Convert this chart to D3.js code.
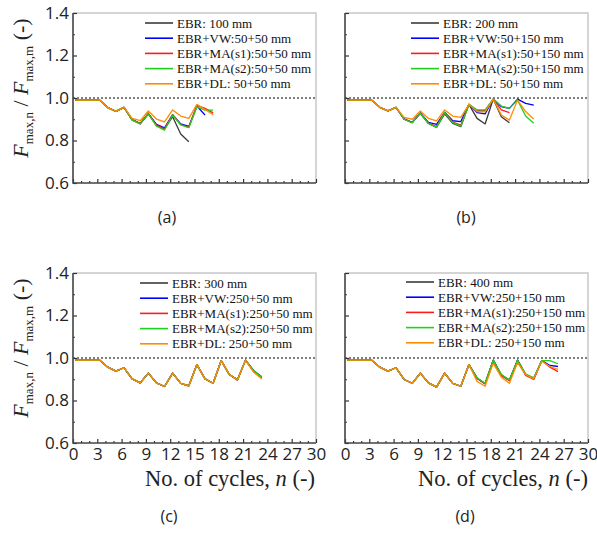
<!DOCTYPE html>
<html><head><meta charset="utf-8">
<script src="https://cdn.jsdelivr.net/npm/d3@7"></script>
<style>
html,body{margin:0;padding:0;background:#fff;}
svg{display:block;}
</style></head>
<body>
<svg id="chart" width="597" height="533"></svg>
<script>
// ---------- DATA ----------
const cycleNo = [0.3,1.3,2.3,3.3,4.3,5.3,6.3,7.3,8.3,9.3,10.3,11.3,12.3,13.3,14.3,15.3,16.3,17.3,18.3,19.3,20.3,21.3,22.3,23.3,24.3,25.3,26.3];
const xTicks = [0,3,6,9,12,15,18,21,24,27,30];
const yTicks = [0.6,0.8,1.0,1.2,1.4];
const seriesColors = ["#3a3a3a","#0000ff","#ff1a1a","#1fd01f","#ff8c00"];

// Panel (a)
const legendA = ["EBR: 100 mm","EBR+VW:50+50 mm","EBR+MA(s1):50+50 mm","EBR+MA(s2):50+50 mm","EBR+DL: 50+50 mm"];
const a_EBR  = [0.99,0.99,0.99,0.99,0.955,0.937,0.956,0.897,0.879,0.926,0.872,0.855,0.912,0.831,0.794];
const a_VW   = [0.99,0.99,0.99,0.99,0.955,0.937,0.956,0.898,0.880,0.926,0.876,0.860,0.922,0.878,0.866,0.962,0.920];
const a_MAs1 = [0.99,0.99,0.99,0.99,0.955,0.937,0.956,0.897,0.879,0.926,0.872,0.855,0.921,0.875,0.862,0.965,0.951,0.930];
const a_MAs2 = [0.99,0.99,0.99,0.99,0.955,0.937,0.956,0.896,0.878,0.925,0.868,0.849,0.920,0.873,0.860,0.958,0.943,0.943];
const a_DL   = [0.99,0.99,0.99,0.99,0.955,0.937,0.956,0.904,0.893,0.939,0.901,0.888,0.944,0.915,0.904,0.970,0.946,0.922];

// Panel (b)
const legendB = ["EBR: 200 mm","EBR+VW:50+150 mm","EBR+MA(s1):50+150 mm","EBR+MA(s2):50+150 mm","EBR+DL: 50+150 mm"];
const b_EBR  = [0.99,0.99,0.99,0.99,0.956,0.939,0.956,0.900,0.884,0.928,0.880,0.862,0.925,0.881,0.865,0.970,0.904,0.878,0.995,0.912,0.884];
const b_VW   = [0.99,0.99,0.99,0.99,0.956,0.939,0.956,0.902,0.886,0.930,0.885,0.876,0.933,0.893,0.889,0.970,0.931,0.925,0.995,0.959,0.951,0.995,0.975,0.967];
const b_MAs1 = [0.99,0.99,0.99,0.99,0.956,0.939,0.956,0.900,0.884,0.929,0.882,0.866,0.932,0.886,0.872,0.970,0.940,0.940,0.995,0.944,0.931];
const b_MAs2 = [0.99,0.99,0.99,0.99,0.956,0.939,0.956,0.900,0.884,0.928,0.880,0.862,0.931,0.884,0.868,0.970,0.944,0.944,0.995,0.962,0.951,0.990,0.915,0.881];
const b_DL   = [0.99,0.99,0.99,0.99,0.956,0.939,0.956,0.909,0.900,0.939,0.904,0.892,0.944,0.915,0.909,0.970,0.936,0.935,0.995,0.920,0.896,0.990,0.936,0.901];

// Panel (c)
const legendC = ["EBR: 300 mm","EBR+VW:250+50 mm","EBR+MA(s1):250+50 mm","EBR+MA(s2):250+50 mm","EBR+DL: 250+50 mm"];
const c_EBR  = [0.99,0.99,0.99,0.99,0.957,0.938,0.954,0.902,0.883,0.929,0.883,0.866,0.929,0.881,0.869,0.969,0.902,0.881,0.988,0.922,0.897,0.990,0.940,0.908];
const c_VW   = [0.99,0.99,0.99,0.99,0.957,0.938,0.954,0.902,0.883,0.929,0.883,0.866,0.929,0.881,0.869,0.969,0.902,0.881,0.988,0.922,0.897,0.990,0.940,0.912];
const c_MAs1 = [0.99,0.99,0.99,0.99,0.957,0.938,0.954,0.902,0.883,0.929,0.883,0.866,0.929,0.881,0.869,0.969,0.902,0.881,0.988,0.922,0.897,0.990,0.935,0.905];
const c_MAs2 = [0.99,0.99,0.99,0.99,0.957,0.938,0.954,0.902,0.883,0.929,0.883,0.866,0.929,0.881,0.869,0.969,0.902,0.881,0.988,0.922,0.897,0.990,0.941,0.910];
const c_DL   = [0.99,0.99,0.99,0.99,0.957,0.938,0.954,0.902,0.883,0.929,0.883,0.866,0.929,0.881,0.869,0.969,0.902,0.881,0.988,0.922,0.897,0.990,0.934,0.902];

// Panel (d)
const legendD = ["EBR: 400 mm","EBR+VW:250+150 mm","EBR+MA(s1):250+150 mm","EBR+MA(s2):250+150 mm","EBR+DL: 250+150 mm"];
const d_EBR  = [0.99,0.99,0.99,0.99,0.957,0.938,0.954,0.899,0.881,0.929,0.883,0.863,0.929,0.881,0.867,0.969,0.905,0.879,0.990,0.920,0.895,0.990,0.922,0.903,0.988];
const d_VW   = [0.99,0.99,0.99,0.99,0.957,0.938,0.954,0.899,0.881,0.929,0.883,0.863,0.929,0.881,0.867,0.969,0.905,0.879,0.990,0.920,0.895,0.990,0.922,0.903,0.988,0.965,0.960];
const d_MAs1 = [0.99,0.99,0.99,0.99,0.957,0.938,0.954,0.899,0.881,0.929,0.883,0.863,0.929,0.881,0.867,0.969,0.905,0.879,0.988,0.918,0.893,0.988,0.918,0.899,0.988,0.957,0.936];
const d_MAs2 = [0.99,0.99,0.99,0.99,0.957,0.938,0.954,0.899,0.881,0.929,0.883,0.863,0.929,0.881,0.867,0.969,0.907,0.881,0.990,0.922,0.897,0.990,0.925,0.907,0.988,0.988,0.973];
const d_DL   = [0.99,0.99,0.99,0.99,0.957,0.938,0.954,0.899,0.881,0.929,0.883,0.863,0.929,0.881,0.867,0.969,0.890,0.867,0.975,0.910,0.881,0.978,0.922,0.902,0.985,0.960,0.946];

const panelLabels = ["(a)","(b)","(c)","(d)"];

// ---------- LAYOUT ----------
const panels = [
  {label:panelLabels[0], series:[a_EBR,a_VW,a_MAs1,a_MAs2,a_DL], legend:legendA, x0:73, x1:316, y0:13, y1:183, showX:false, showY:true,  lg:{x:145, y:23}, lab:{x:167,y:223}},
  {label:panelLabels[1], series:[b_EBR,b_VW,b_MAs1,b_MAs2,b_DL], legend:legendB, x0:345, x1:588, y0:13, y1:183, showX:false, showY:false, lg:{x:411, y:23}, lab:{x:466,y:223}},
  {label:panelLabels[2], series:[c_EBR,c_VW,c_MAs1,c_MAs2,c_DL], legend:legendC, x0:73, x1:316, y0:273, y1:443, showX:true, showY:true,  lg:{x:140, y:283}, lab:{x:169,y:522}, title:{x:230,y:486}},
  {label:panelLabels[3], series:[d_EBR,d_VW,d_MAs1,d_MAs2,d_DL], legend:legendD, x0:345, x1:588, y0:273, y1:443, showX:true, showY:false, lg:{x:406, y:282}, lab:{x:465,y:522}, title:{x:503,y:486}}
];

const svg = d3.select("#chart");
const serif = "'Liberation Serif','DejaVu Serif',serif";
const sans = "'Open Sans','Noto Sans',sans-serif";

panels.forEach(p => {
  const x = d3.scaleLinear().domain([0,30]).range([p.x0,p.x1]);
  const y = d3.scaleLinear().domain([0.6,1.4]).range([p.y1,p.y0]);
  const g = svg.append("g");

  g.append("path").attr("d",`M${p.x0},${p.y0}H${p.x1}V${p.y1}`)
    .attr("fill","none").attr("stroke","#c8c8c8").attr("stroke-width",1.5);

  g.append("line").attr("x1",p.x0).attr("x2",p.x1).attr("y1",y(1.0)).attr("y2",y(1.0))
    .attr("stroke","#000").attr("stroke-width",1).attr("stroke-dasharray","2,2");

  const line = d3.line().x((d,i)=>x(cycleNo[i])).y(d=>y(d));
  p.series.forEach((s,k) => {
    g.append("path").datum(s).attr("d",line).attr("fill","none")
      .attr("stroke",seriesColors[k]).attr("stroke-width",1.3).attr("stroke-linejoin","round");
  });

  const xAx = d3.axisBottom(x).tickValues(d3.range(0,31,1)).tickSize(0).tickFormat("");
  const gx = g.append("g").attr("transform",`translate(0,${p.y1})`).call(xAx);
  gx.select(".domain").remove();
  gx.selectAll(".tick").append("line").attr("y1",0)
    .attr("y2",d => (d%3===0)? -4 : -2).attr("stroke","#333").attr("stroke-width",1.2);
  if (p.showX) {
    const lx = d3.axisBottom(x).tickValues(xTicks).tickSize(0).tickPadding(5);
    const gl = g.append("g").attr("transform",`translate(0,${p.y1})`).call(lx);
    gl.select(".domain").remove();
    gl.selectAll("text").attr("font-family",sans).attr("font-size",17).attr("fill","#222");
  }

  const yAx = d3.axisLeft(y).tickValues(d3.range(6,15,1).map(v=>v/10)).tickSize(0).tickFormat("");
  const gy = g.append("g").attr("transform",`translate(${p.x0},0)`).call(yAx);
  gy.select(".domain").remove();
  gy.selectAll(".tick").append("line").attr("x1",0)
    .attr("x2",(d,i) => (i%2===0)? 4 : 2).attr("stroke","#333").attr("stroke-width",1.2);
  if (p.showY) {
    const ly = d3.axisLeft(y).tickValues(yTicks).tickSize(0).tickPadding(4).tickFormat(d3.format(".1f"));
    const gl = g.append("g").attr("transform",`translate(${p.x0},0)`).call(ly);
    gl.select(".domain").remove();
    gl.selectAll("text").attr("font-family",sans).attr("font-size",17).attr("fill","#222");
  }

  g.append("path").attr("d",`M${p.x0},${p.y0}V${p.y1}H${p.x1}`)
    .attr("fill","none").attr("stroke","#444").attr("stroke-width",1.6);

  p.legend.forEach((t,k) => {
    const yy = p.lg.y + k*15.2;
    g.append("line").attr("x1",p.lg.x).attr("x2",p.lg.x+28).attr("y1",yy).attr("y2",yy)
      .attr("stroke",seriesColors[k]).attr("stroke-width",1.6);
    g.append("text").attr("x",p.lg.x+32).attr("y",yy).attr("dy","0.35em")
      .attr("font-family",serif).attr("font-size",13).attr("fill","#111").text(t);
  });

  svg.append("text").attr("x",p.lab.x).attr("y",p.lab.y).attr("text-anchor","middle")
    .attr("font-family",sans).attr("font-size",16).attr("fill","#222").text(p.label);

  if (p.title) {
    const t = svg.append("text").attr("x",p.title.x).attr("y",p.title.y).attr("text-anchor","middle")
      .attr("font-family",serif).attr("font-size",22.5).attr("fill","#222");
    t.append("tspan").text("No. of cycles, ");
    t.append("tspan").attr("font-style","italic").text("n");
    t.append("tspan").text(" (-)");
  }

  if (p.showY) {
    const cy = (p.y0 + p.y1)/2 - 10;
    const t = svg.append("text").attr("transform",`translate(28,${cy}) rotate(-90)`)
      .attr("text-anchor","middle").attr("font-family",serif).attr("font-size",22).attr("fill","#222");
    t.append("tspan").attr("font-style","italic").text("F");
    t.append("tspan").attr("font-size",13).attr("dy",5).text("max,n");
    t.append("tspan").attr("dy",-5).text(" / ");
    t.append("tspan").attr("font-style","italic").text("F");
    t.append("tspan").attr("font-size",13).attr("dy",5).text("max,m");
    t.append("tspan").attr("dy",-5).text(" (-)");
  }
});
</script>
</body></html>
